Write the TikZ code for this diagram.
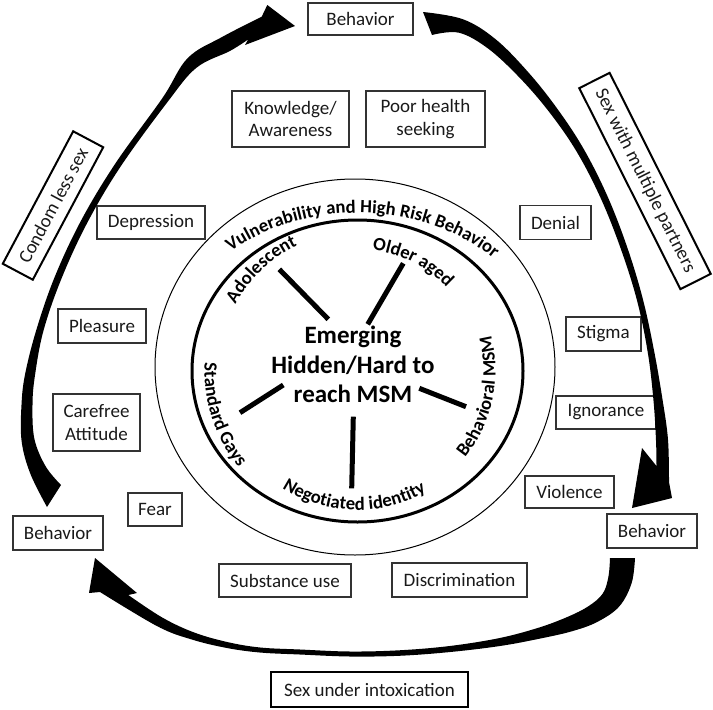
\documentclass[tikz,border=0pt]{standalone}
\usepackage{fontspec}
\setmainfont{Carlito}
\usetikzlibrary{decorations.text}
\newcommand\boxfont{\fontsize{19}{22.5}\selectfont}
\newcommand\lblfont{\bfseries\fontsize{18.7}{21}\selectfont}
\newcommand\outfont{\bfseries\fontsize{18.6}{20}\selectfont}
\begin{document}
\begin{tikzpicture}[x=1pt,y=-1pt,
  box/.style={draw=black!80, line width=1.1pt, inner sep=0pt, align=center, font=\boxfont, text=black!90},
  thickbox/.style={box, draw=black, line width=2pt},
  spoke/.style={line width=5pt, black},
  curvetext/.style={decorate, decoration={text along path, text align=center, text={|\lblfont|#1}}},
  outtext/.style={decorate, decoration={text along path, text align=center, text={|\outfont|#1}}},
  bigarrow/.style={fill=black}
]
\useasboundingbox (0,0) rectangle (713,710);

% circles
\coordinate (Ct) at (357.5,371);
\coordinate (Co) at (355,367);
\draw[line width=1pt] (Co) ellipse [x radius=200, y radius=188];
\draw[line width=3pt] (Ct) ellipse [x radius=165.5, y radius=151];

% curved labels
\path[outtext={Vulnerability and High Risk Behavior}] (Ct) ++(-150:194 and 158) arc[start angle=-150, end angle=-26, x radius=194, y radius=158];
\path[curvetext={Adolescent}] (Ct) ++(-178.5:139) arc[start angle=-178.5, end angle=-88.5, radius=139];
\path[curvetext={Older aged}] (Ct) ++(-108:122) arc[start angle=-108, end angle=-18, radius=122];
\path[curvetext={Standard Gays}] (Ct) ++(207:153) arc[start angle=207, end angle=117, radius=153];
\path[curvetext={Behavioral MSM}] (Ct) ++(57:138) arc[start angle=57, end angle=-33, radius=138];
\path[curvetext={Negotiated identity}] (Ct) ++(136.5:139) arc[start angle=136.5, end angle=46.5, radius=139];

% hub
\node[font=\bfseries\fontsize{25}{29.5}\selectfont, align=center, inner sep=0pt] (hub) at (353,364.5) {Emerging\\Hidden/Hard to\\reach MSM};

% spokes
\coordinate (a1) at (279.3,269.3); \coordinate (a2) at (328.3,319.3);
\coordinate (o1) at (403.3,263.3); \coordinate (o2) at (367.7,324.3);
\coordinate (s1) at (283.3,385);   \coordinate (s2) at (240,412.7);
\coordinate (b1) at (419.3,388.3); \coordinate (b2) at (466,406.7);
\coordinate (n1) at (353.3,416.7); \coordinate (n2) at (351.7,488.3);
\draw[spoke] (a1) -- (a2);
\draw[spoke] (o1) -- (o2);
\draw[spoke] (s1) -- (s2);
\draw[spoke] (b1) -- (b2);
\draw[spoke] (n1) -- (n2);

% boxes
\node[box, minimum width=105pt, minimum height=32pt] (btop) at (360.5,19) {Behavior};
\node[box, minimum width=117pt, minimum height=56pt] (know) at (290.5,119) {Knowledge/\\Awareness};
\node[box, minimum width=119pt, minimum height=56pt] (poor) at (425.5,119) {Poor health\\seeking};
\node[box, minimum width=108pt, minimum height=33pt] (depr) at (151,222.5) {Depression};
\node[box, minimum width=88pt, minimum height=34pt] (plea) at (102,326) {Pleasure};
\node[box, minimum width=87pt, minimum height=57pt] (care) at (96.5,422.5) {Carefree\\Attitude};
\node[box, minimum width=54pt, minimum height=33pt] (fear) at (155,509.5) {Fear};
\node[box, minimum width=90pt, minimum height=34pt] (bleft) at (58,533) {Behavior};
\node[box, minimum width=71pt, minimum height=34pt] (deni) at (555.5,222.5) {Denial};
\node[box, minimum width=75pt, minimum height=34pt] (stig) at (603.5,334) {Stigma};
\node[box, minimum width=100pt, minimum height=33pt] (igno) at (606,412.5) {Ignorance};
\node[box, minimum width=89pt, minimum height=32pt] (viol) at (569.5,492) {Violence};
\node[box, minimum width=90pt, minimum height=34pt] (bright) at (652,531) {Behavior};
\node[box, minimum width=132pt, minimum height=33pt] (subs) at (285,580.5) {Substance use};
\node[box, minimum width=135pt, minimum height=34pt] (disc) at (459.5,580) {Discrimination};
\node[thickbox, minimum width=197pt, minimum height=35pt] (intox) at (369.5,689.5) {Sex under intoxication};
\node[thickbox, rotate=62, minimum width=150pt, minimum height=34pt] (condom) at (53,205.5) {Condom less sex};
\node[thickbox, rotate=-63.3, minimum width=225pt, minimum height=34pt] (multi) at (645,181) {Sex with multiple partners};

% left arrow (up to top Behavior)
\fill[bigarrow] plot[smooth, tension=0.6] coordinates {(47,507) (30.3,473.6) (21.6,441.1) (21.5,404.8) (25.1,374.1) (36.6,329) (54.8,276.7) (81.1,220.5) (115.5,163.3) (162.4,98.1) (187.6,58.2) (221.9,37.1) (261.7,16.7)}
  -- (267.3,5) -- (295,26) -- (245,45) -- (248.3,39.3)
  -- plot[smooth, tension=0.6] coordinates {(248.3,39.3) (230.1,50.9) (196.4,67.8) (167.6,101.9) (120.5,166.7) (86.9,223.5) (61.2,279.3) (43.4,331) (34.9,375.9) (32.5,405.2) (34.4,438.9) (45.7,466.4) (61,485)} -- cycle;

% right arrow (down to right Behavior)
\fill[bigarrow] plot[smooth, tension=0.6] coordinates {(423,12) (463.1,19.3) (495.7,39.3) (527.7,71.6) (556.4,107.5) (583.2,148.1) (607.2,195.6) (627.1,246.9) (642.9,299.2) (654.2,351.4) (662.5,399.4) (668,439.6) (669,482)}
  -- (672,498) -- (632,508) -- (642,448) -- (656.5,466)
  -- plot[smooth, tension=0.6] coordinates {(656.5,466) (656,440.4) (653.5,400.6) (647.8,352.6) (637.1,300.8) (620.9,249.1) (600.8,198.4) (576.8,151.9) (549.6,112.5) (520.3,78.4) (488.3,48.7) (458.9,32.7) (432,35)} -- cycle;

% bottom arrow (to left Behavior)
\fill[bigarrow] plot[smooth, tension=0.6] coordinates {(635,558) (631.6,583.2) (619.2,606.5) (597.5,621.8) (572.5,631.1) (541.4,638.3) (500.7,645.9) (450.3,652) (400.1,655.75) (350,656.5) (299.9,654.5) (259.8,652.5) (226.4,647.9) (191.8,639.5) (157.6,626.4) (100,592)}
  -- (89,593) -- (95,558) -- (137,593) -- (128.3,595)
  -- plot[smooth, tension=0.6] coordinates {(128.3,595) (162.4,617.6) (194.2,632.5) (227.6,642.1) (260.2,647.5) (300.1,649.5) (350,651.5) (399.9,650.25) (449.7,646) (499.3,638.1) (538.6,627.7) (567.5,616.9) (588.5,606.2) (602.8,593.5) (608.4,576.8) (610,558)} -- cycle;
\end{tikzpicture}
\end{document}
